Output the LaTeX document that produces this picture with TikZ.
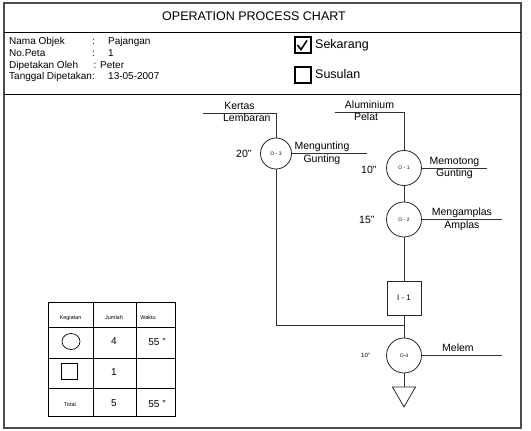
\documentclass[tikz,border=0pt]{standalone}
\usepackage{fontspec}
\setmainfont{Liberation Sans}
\usetikzlibrary{positioning, calc, shapes.geometric}
\tikzset{
  frame/.style={draw=black!70, line width=1.3pt},
  rule/.style={draw=black, line width=0.9pt},
  flow/.style={draw=black!80, line width=0.9pt},
  oper/.style={draw=black!85, line width=0.8pt, circle, minimum size=35pt, inner sep=0pt, font=\fontsize{5}{6}\selectfont},
  insp/.style={draw=black!85, line width=0.8pt, minimum size=34pt, inner sep=0pt, font=\fontsize{8}{9}\selectfont},
  store/.style={draw=black!85, line width=0.8pt, regular polygon, regular polygon sides=3, shape border rotate=180, minimum size=26.6pt, inner sep=0pt},
  mlbl/.style={font=\fontsize{10.5}{12}\selectfont, text height=7.5pt, text depth=2.2pt, inner sep=1pt},
  tlbl/.style={font=\fontsize{10.5}{12}\selectfont, inner sep=1pt},
  hdr/.style={font=\fontsize{10}{12}\selectfont, anchor=base west, inner sep=0pt},
  cbox/.style={draw, line width=2pt, minimum size=16pt, inner sep=0pt},
  cboxtxt/.style={font=\fontsize{12.5}{14}\selectfont, inner sep=1pt},
  tbl/.style={draw=black, line width=0.9pt},
  tsmall/.style={font=\fontsize{5.5}{6}\selectfont, inner sep=0pt},
  tnum/.style={font=\fontsize{10}{12}\selectfont, inner sep=0pt},
}
\begin{document}
\begin{tikzpicture}[x=1pt, y=-1pt]
  \useasboundingbox (0,0) rectangle (531,431);
  % frame and header
  \draw[frame] (4,3) rectangle (521,428);
  \draw[rule] (4,32) -- (521,32);
  \draw[rule] (4,94) -- (521,94);
  \node[font=\fontsize{12.5}{15}\selectfont] (title) at (254,16.5) {OPERATION PROCESS CHART};

  \node[hdr] (nama) at (9,45) {Nama Objek};
  \node[hdr] (namac) at (92,45) {:};
  \node[hdr] (namav) at (108,45) {Pajangan};
  \node[hdr] (peta) at (9,56.5) {No.Peta};
  \node[hdr] (petac) at (92,56.5) {:};
  \node[hdr] (petav) at (108,56.5) {1};
  \node[hdr] (oleh) at (9,68) {Dipetakan Oleh};
  \node[hdr] (olehc) at (93.5,68) {:};
  \node[hdr] (olehv) at (100,68) {Peter};
  \node[hdr] (tgl) at (9,79.5) {Tanggal Dipetakan:};
  \node[hdr] (tglv) at (108,79.5) {13-05-2007};

  \node[cbox] (now) at (302.5,45) {};
  \node[cboxtxt, right=2.5pt of now] (nowtxt) {Sekarang};
  \draw[line width=1.6pt] ($(now.center)+(-5,0)$) -- ++(3.5,4.5) -- ++(6,-9);
  \node[cbox] (later) at (302.5,74.5) {};
  \node[cboxtxt, right=2.5pt of later] (latertxt) {Susulan};

  % chart
  \node[oper, minimum size=31pt] (o3) at (276,153.5) {O - 3};
  \node[oper] (o1) at (404,168) {O - 1};
  \node[oper] (o2) at (404,219.5) {O - 2};
  \node[insp] (i1) at (404,298) {I - 1};
  \node[oper] (o4) at (404,355.5) {O-4};
  \node[store] (st) at (404,393.6) {};

  \coordinate (kertasA) at (203,113);
  \coordinate (kertasB) at (276,113);
  \coordinate (alumA) at (335,112);
  \coordinate (alumB) at (404,112);
  \coordinate (guntE) at (367,153.5);
  \coordinate (potE) at (487,168);
  \coordinate (amplasE) at (502,219.5);
  \coordinate (melemE) at (502,355.5);
  \coordinate (join) at (404,325);

  \draw[flow] (kertasA) -- node[mlbl,above]{Kertas} node[mlbl,below,pos=0.6]{Lembaran} (kertasB) -- (o3);
  \draw[flow] (alumA) -- node[mlbl,above]{Aluminium} node[mlbl,below,pos=0.45]{Pelat} (alumB) -- (o1);
  \draw[flow] (o3) -- node[mlbl,above,pos=0.4]{Mengunting} node[mlbl,below,pos=0.4]{Gunting} (guntE);
  \draw[flow] (o1) -- node[mlbl,above]{Memotong} node[mlbl,below]{Gunting} (potE);
  \draw[flow] (o2) -- node[mlbl,above]{Mengamplas} node[mlbl,below]{Amplas} (amplasE);
  \draw[flow] (o4) -- node[mlbl,above,pos=0.45]{Melem} (melemE);
  \draw[flow] (o1) -- (o2);
  \draw[flow] (o2) -- (i1);
  \draw[flow] (i1) -- (o4);
  \draw[flow] (o3) |- (join);
  \draw[flow] (o4) -- (st);

  \node[tlbl, left=7.5pt of o3] (t3) {20"};
  \node[tlbl, left=8.5pt of o1, yshift=-2pt] (t1) {10"};
  \node[tlbl, left=10.5pt of o2] (t2) {15"};
  \node[tlbl, left=15pt of o4, font=\fontsize{6}{7}\selectfont] (t4) {10"};

  % summary table
  \draw[tbl] (48,302) rectangle (175,416);
  \foreach \y in {327,358,388}
    \draw[tbl] (48,\y) -- (175,\y);
  \foreach \x in {93,136}
    \draw[tbl] (\x,302) -- (\x,416);
  \node[tsmall] (kg) at (70.5,318) {Kegiatan};
  \node[tsmall] (jm) at (114,318) {Jumlah};
  \node[tsmall] (wk) at (148,318) {Waktu};
  \node[draw, ellipse, line width=0.7pt, minimum width=18pt, minimum height=16pt, inner sep=0pt] (symop) at (71,341.5) {};
  \node[tnum] (nop) at (114,341.5) {4};
  \node[tnum] (wop) at (157,342) {55 "};
  \node[draw, line width=0.7pt, minimum size=16pt, inner sep=0pt] (symin) at (69.5,371) {};
  \node[tnum] (nin) at (114,372.5) {1};
  \node[tsmall] (tot) at (70,404.5) {Total};
  \node[tnum] (ntot) at (114,403.5) {5};
  \node[tnum] (wtot) at (157,404) {55 "};
\end{tikzpicture}
\end{document}
